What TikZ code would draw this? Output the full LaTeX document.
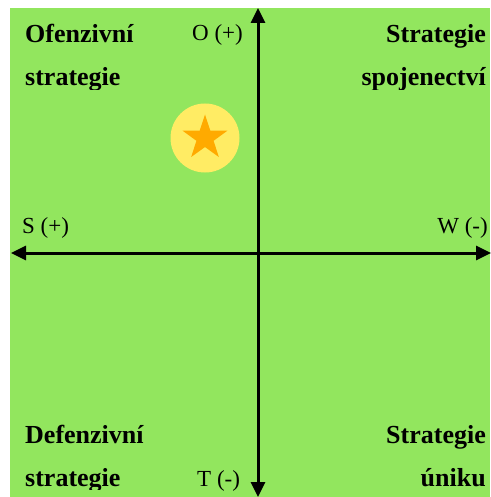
\documentclass[tikz,border=0pt]{standalone}
\usepackage{fontspec}
\setmainfont{Liberation Serif}
\usetikzlibrary{arrows.meta,shapes.geometric}

\definecolor{swotgreen}{RGB}{146,230,94}
\definecolor{swotyellow}{RGB}{255,236,100}
\definecolor{swotorange}{RGB}{255,170,0}

\begin{document}
\begin{tikzpicture}[
    x=1pt, y=-1pt,
    title/.style={inner sep=0pt, font=\fontsize{26}{30}\selectfont\bfseries},
    axlabel/.style={inner sep=0pt, font=\fontsize{23}{27}\selectfont},
    axis/.style={line width=3pt, {Triangle[length=15pt,width=14pt]}-{Triangle[length=15pt,width=14pt]}}
]
\useasboundingbox (0,0) rectangle (490,497);
\fill[swotgreen] (10,8) rectangle (490,497);

% axes
\coordinate (west) at (11,253);
\coordinate (east) at (491,253);
\coordinate (north) at (258,8);
\coordinate (south) at (258,497);
\draw[axis] (west) -- (east);
\draw[axis] (south) -- (north);

% axis labels
\node[axlabel, anchor=base west] (lO) at (192,41) {O (+)};
\node[axlabel, anchor=base west] (lS) at (22,233) {S (+)};
\node[axlabel, anchor=base east] (lW) at (488,233) {W (-)};
\node[axlabel, anchor=base west] (lT) at (197,486) {T (-)};

% quadrant titles
\begin{scope}
\clip (10,8) rectangle (490,90);
\node[title, anchor=base west] (so1) at (25,43) {Ofenzivní};
\node[title, anchor=base west] (so2) at (25,86) {strategie};
\node[title, anchor=base east] (wo1) at (486,43) {Strategie};
\node[title, anchor=base east] (wo2) at (486,86) {spojenectví};
\end{scope}
\begin{scope}
\clip (10,400) rectangle (490,489);
\node[title, anchor=base west] (st1) at (25,443) {Defenzivní};
\node[title, anchor=base west] (st2) at (25,486) {strategie};
\node[title, anchor=base east] (wt1) at (486,443) {Strategie};
\node[title, anchor=base east] (wt2) at (486,486) {úniku};
\end{scope}

% position marker
\node[circle, fill=swotyellow, minimum size=69pt, inner sep=0pt] (pos) at (205,138) {};
\node[star, star points=5, star point ratio=2.6, fill=swotorange, minimum size=47pt, inner sep=0pt] (mark) at (pos) {};
\end{tikzpicture}
\end{document}
